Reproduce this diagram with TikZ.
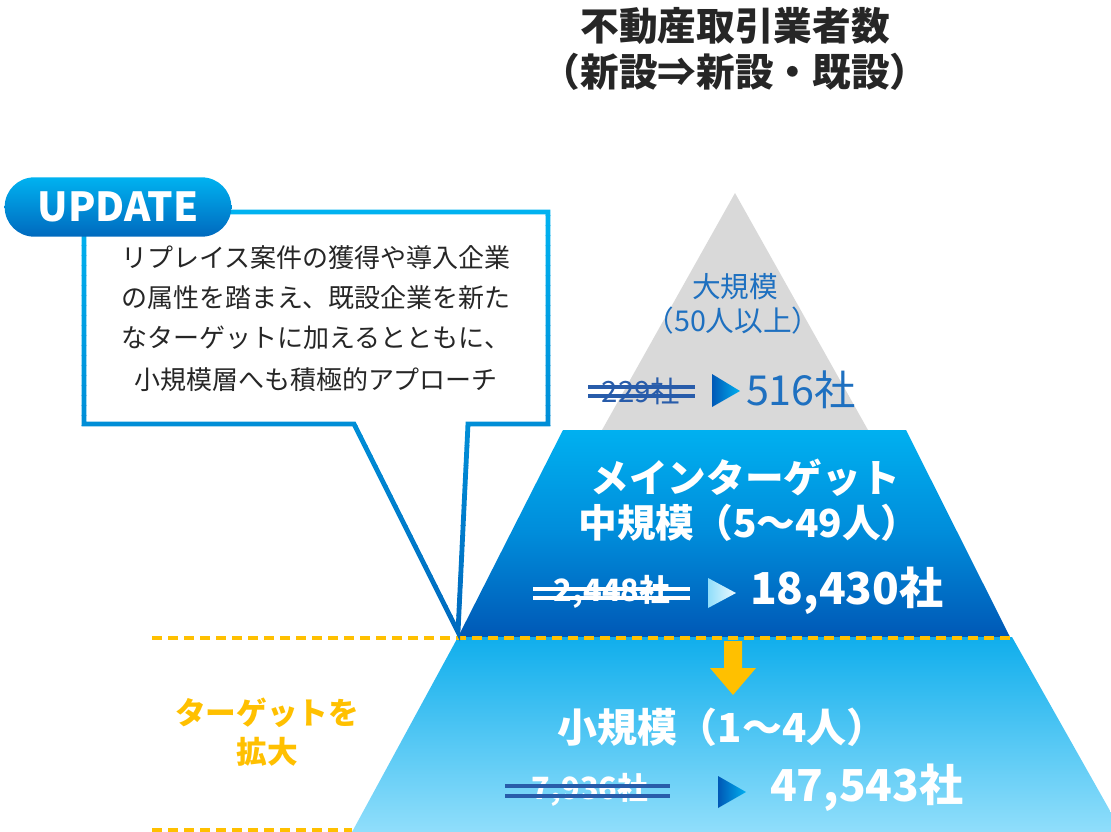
\documentclass[tikz,border=0pt]{standalone}
\usepackage{fontspec}
\setmainfont{Noto Sans CJK JP}
\definecolor{ctop}{RGB}{0,178,240}
\definecolor{cbot}{RGB}{0,105,190}
\definecolor{txtdark}{RGB}{38,38,38}
\definecolor{largeblue}{RGB}{30,112,192}
\definecolor{pyrgray}{RGB}{217,217,217}
\definecolor{midtop}{RGB}{0,176,240}
\definecolor{midmid}{RGB}{0,140,218}
\definecolor{midbot}{RGB}{0,88,182}
\definecolor{lowtop}{RGB}{16,174,236}
\definecolor{lowbot}{RGB}{144,222,251}
\definecolor{accent}{RGB}{255,192,0}
\definecolor{strikeblue}{RGB}{40,92,170}
\begin{document}
\begin{tikzpicture}[x=0.75pt,y=-0.75pt,
  lbl/.style={inner sep=0pt, outer sep=0pt},
  titletxt/.style={lbl, font=\fontsize{29}{34}\selectfont\bfseries, text=txtdark},
  callouttxt/.style={lbl, font=\fontsize{19.5}{24}\selectfont, text=txtdark},
  largetxt/.style={lbl, font=\fontsize{21.5}{26}\selectfont, text=largeblue},
  whitebig/.style={lbl, font=\fontsize{29}{34}\selectfont\bfseries, text=white},
  oldnum/.style={lbl, font=\fontsize{23}{28}\selectfont\bfseries},
  newnum/.style={lbl, font=\fontsize{33}{38}\selectfont\bfseries, text=white, anchor=west},
  strike/.style={line width=2.4pt},
  dashline/.style={draw=accent, line width=2.6pt, dash pattern=on 7.5pt off 4.5pt},
  badge/.style={inner sep=0pt, minimum width=170pt, minimum height=44.5pt, rounded corners=22.2pt,
     top color=ctop, bottom color=cbot, text=white, font=\fontsize{30}{34}\selectfont\bfseries}
]
\useasboundingbox (0,0) rectangle (1111,832);
\clip (0,0) rectangle (1111,832);

% title
\node[titletxt] (title1) at (735,26) {不動産取引業者数};
\node[titletxt] (title2) at (735,72) {（新設⇒新設・既設）};

% pyramid
\fill[pyrgray] (735,193) -- (868,430) -- (602,430) -- cycle;
\shade[top color=midtop, bottom color=midbot, middle color=midmid] (563,430) -- (906,430) -- (1010,637) -- (458,637) -- cycle;
\shade[top color=lowtop, bottom color=lowbot] (458,637) -- (1012,637) -- (1122,832) -- (352,832) -- cycle;

% dashed lines
\draw[dashline] (152,638) -- (1012,638);
\draw[dashline] (152,830) -- (352,830);

% arrow
\fill[accent] (724,641) -- (742,641) -- (742,668) -- (756,668) -- (733,695) -- (710,668) -- (724,668) -- cycle;

% large tier
\node[largetxt] (large1) at (735,287) {大規模};
\node[largetxt] (large2) at (733,321) {（50人以上）};
\node[oldnum, font=\fontsize{22}{26}\selectfont, text=strikeblue] (largeold) at (641,391) {229社};
\draw[strike, strikeblue] (588,387) -- (695,387);
\draw[strike, strikeblue] (588,396) -- (695,396);
\shade[left color=midbot, right color=midtop] (712,374) -- (740,391) -- (712,407) -- cycle;
\node[lbl, font=\fontsize{31}{36}\selectfont, text=largeblue, anchor=west] (largenew) at (746,390) {516社};

% middle tier
\node[whitebig] (mid1) at (745,478) {メインターゲット};
\node[whitebig] (mid2) at (749,523) {中規模（5～49人）};
\node[oldnum, text=white] (midold) at (612,592) {2,448社};
\draw[strike, white] (533,589) -- (690,589);
\draw[strike, white] (533,598) -- (690,598);
\shade[left color=lowbot, right color=white!85!lowbot] (708,578) -- (736,593) -- (708,608) -- cycle;
\node[newnum] (midnew) at (750,591) {18,430社};

% small tier
\node[whitebig, font=\fontsize{30}{34}\selectfont\bfseries] (small1) at (722,727) {小規模（1～4人）};
\node[oldnum, text=white] (smallold) at (590,790) {7,936社};
\draw[strike, strikeblue] (505,786) -- (670,786);
\draw[strike, strikeblue] (505,796) -- (670,796);
\shade[left color=midbot, right color=midtop] (718,776) -- (746,792) -- (718,808) -- cycle;
\node[newnum] (smallnew) at (770,788) {47,543社};

% left label
\node[lbl, font=\fontsize{23}{28}\selectfont\bfseries, text=accent] (expand1) at (267,713) {ターゲットを};
\node[lbl, font=\fontsize{23}{28}\selectfont\bfseries, text=accent] (expand2) at (267,752) {拡大};

% callout: white body, then border with vertical gradient drawn in bands
\fill[white] (84,212) -- (548,212) -- (548,424) -- (468,424) -- (458,632) -- (354,424) -- (84,424) -- cycle;
\foreach \i in {0,...,43} {
  \pgfmathsetmacro{\p}{min(100,\i*100/43)}
  \begin{scope}
    \clip (0,{205+\i*10}) rectangle (1111,{215+\i*10});
    \draw[cbot!\p!ctop, line width=3.6pt] (84,212) -- (548,212) -- (548,424) -- (468,424) -- (458,632) -- (354,424) -- (84,424) -- cycle;
  \end{scope}
}
\node[callouttxt] (c1) at (316,258) {リプレイス案件の獲得や導入企業};
\node[callouttxt] (c2) at (316,298) {の属性を踏まえ、既設企業を新た};
\node[callouttxt] (c3) at (316,338) {なターゲットに加えるとともに、};
\node[callouttxt] (c4) at (316,380) {小規模層へも積極的アプローチ};

% badge
\node[badge] (update) at (118,207) {UPDATE};
\end{tikzpicture}
\end{document}
